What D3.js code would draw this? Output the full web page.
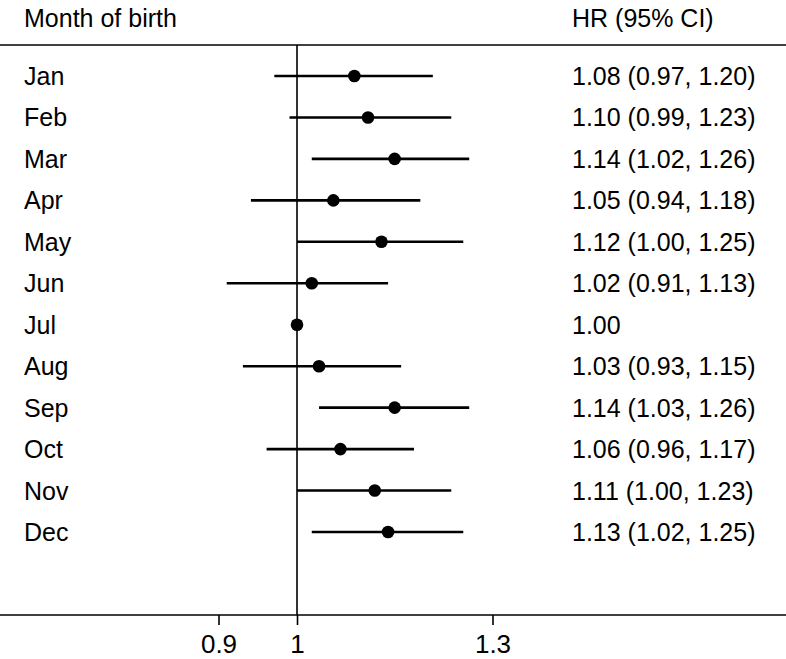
<!DOCTYPE html>
<html>
<head>
<meta charset="utf-8">
<script src="https://cdn.jsdelivr.net/npm/d3@7/dist/d3.min.js"></script>
<style>
  html, body { margin: 0; padding: 0; background: #fff; }
  svg text { font-family: "Liberation Sans", Arial, Helvetica, sans-serif; font-size: 25px; fill: #000; }
</style>
</head>
<body>
<svg id="chart" width="786" height="659"></svg>
<script>
// ---- data ----
const months = ["Jan","Feb","Mar","Apr","May","Jun","Jul","Aug","Sep","Oct","Nov","Dec"];
const hr     = [1.08, 1.10, 1.14, 1.05, 1.12, 1.02, 1.00, 1.03, 1.14, 1.06, 1.11, 1.13];
const lower  = [0.97, 0.99, 1.02, 0.94, 1.00, 0.91, null, 0.93, 1.03, 0.96, 1.00, 1.02];
const upper  = [1.20, 1.23, 1.26, 1.18, 1.25, 1.13, null, 1.15, 1.26, 1.17, 1.23, 1.25];
const hrLabels = ["1.08 (0.97, 1.20)","1.10 (0.99, 1.23)","1.14 (1.02, 1.26)","1.05 (0.94, 1.18)",
                  "1.12 (1.00, 1.25)","1.02 (0.91, 1.13)","1.00","1.03 (0.93, 1.15)",
                  "1.14 (1.03, 1.26)","1.06 (0.96, 1.17)","1.11 (1.00, 1.23)","1.13 (1.02, 1.25)"];
const tickValues = [0.9, 1, 1.3];
const leftHeader = "Month of birth";
const rightHeader = "HR (95% CI)";

// ---- layout ----
const W = 786, H = 659;
const topLineY = 45, axisY = 615;
const labelX = 24, ciTextX = 572;

const svg = d3.select("#chart");

const x = d3.scaleLog().domain([0.9, 1.3]).range([218.5, 492.5]);
const y = d3.scalePoint().domain(months).range([76, 532]);

const rows = months.map((m, i) => ({ m, hr: hr[i], lo: lower[i], hi: upper[i], label: hrLabels[i] }));

// headers
svg.append("text").attr("x", labelX).attr("y", 27).text(leftHeader);
svg.append("text").attr("x", ciTextX).attr("y", 27).text(rightHeader);

// top rule
svg.append("line")
  .attr("x1", 0).attr("x2", W).attr("y1", topLineY).attr("y2", topLineY)
  .attr("stroke", "#000").attr("stroke-width", 1.6);

// reference line at 1
svg.append("line")
  .attr("x1", x(1)).attr("x2", x(1)).attr("y1", topLineY).attr("y2", axisY)
  .attr("stroke", "#000").attr("stroke-width", 1.6);

// CI whiskers
svg.append("g").selectAll("line")
  .data(rows.filter(d => d.lo != null))
  .join("line")
  .attr("x1", d => x(d.lo)).attr("x2", d => x(d.hi))
  .attr("y1", d => y(d.m)).attr("y2", d => y(d.m))
  .attr("stroke", "#000").attr("stroke-width", 2.6);

// points
svg.append("g").selectAll("circle")
  .data(rows)
  .join("circle")
  .attr("cx", d => x(d.hr)).attr("cy", d => y(d.m)).attr("r", 6.3)
  .attr("fill", "#000");

// row labels
svg.append("g").selectAll("text")
  .data(rows)
  .join("text")
  .attr("x", labelX).attr("y", d => y(d.m) + 9)
  .text(d => d.m);

svg.append("g").selectAll("text")
  .data(rows)
  .join("text")
  .attr("x", ciTextX).attr("y", d => y(d.m) + 9)
  .text(d => d.label);

// bottom axis
const axisG = svg.append("g")
  .attr("transform", `translate(0,${axisY})`)
  .call(d3.axisBottom(x).tickValues(tickValues).tickFormat(d => String(d)).tickSize(10).tickPadding(5));
axisG.select(".domain").remove();
axisG.selectAll(".tick line").attr("stroke", "#000").attr("stroke-width", 1.6);
axisG.selectAll(".tick text")
  .attr("font-size", null).attr("font-family", null)
  .style("font-size", "26px").attr("fill", "#000")
  .attr("y", 38).attr("dy", null);
axisG.append("line")
  .attr("x1", 0).attr("x2", W).attr("y1", 0).attr("y2", 0)
  .attr("stroke", "#000").attr("stroke-width", 1.6);
</script>
</body>
</html>
